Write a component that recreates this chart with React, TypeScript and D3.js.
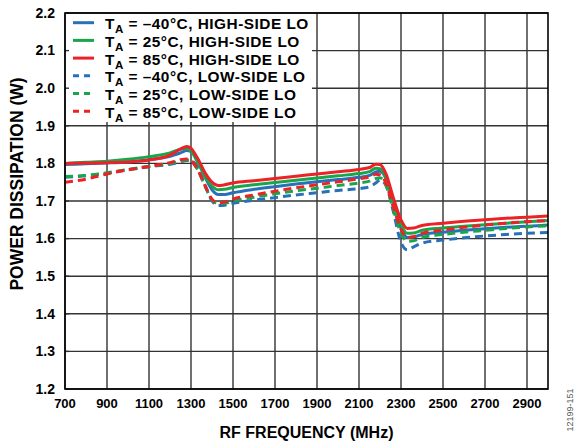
import React from "react";
import * as d3 from "d3";

const freqs = [700, 800, 900, 1000, 1100, 1200, 1250, 1280, 1300, 1330, 1370, 1400, 1430, 1460, 1500, 1600, 1700, 1800, 1900, 2000, 2100, 2150, 2180, 2200, 2230, 2260, 2300, 2330, 2360, 2400, 2500, 2600, 2700, 2800, 2900, 3000];

const hsM40 = [1.797, 1.799, 1.801, 1.804, 1.810, 1.819, 1.828, 1.834, 1.831, 1.810, 1.760, 1.730, 1.717, 1.717, 1.722, 1.731, 1.738, 1.745, 1.751, 1.757, 1.763, 1.768, 1.777, 1.779, 1.757, 1.700, 1.628, 1.603, 1.604, 1.611, 1.617, 1.622, 1.626, 1.630, 1.633, 1.636];
const hs25 = [1.800, 1.803, 1.806, 1.811, 1.818, 1.828, 1.838, 1.840, 1.833, 1.805, 1.762, 1.740, 1.730, 1.731, 1.736, 1.743, 1.749, 1.755, 1.761, 1.767, 1.773, 1.778, 1.787, 1.786, 1.760, 1.705, 1.638, 1.614, 1.615, 1.622, 1.628, 1.633, 1.637, 1.641, 1.645, 1.648];
const hs85 = [1.800, 1.801, 1.802, 1.804, 1.809, 1.822, 1.838, 1.845, 1.840, 1.815, 1.772, 1.750, 1.741, 1.743, 1.748, 1.754, 1.760, 1.766, 1.772, 1.778, 1.784, 1.789, 1.798, 1.797, 1.770, 1.715, 1.650, 1.627, 1.628, 1.635, 1.641, 1.646, 1.650, 1.654, 1.657, 1.660];
const lsM40 = [1.763, 1.767, 1.774, 1.783, 1.791, 1.798, 1.804, 1.808, 1.808, 1.790, 1.738, 1.700, 1.688, 1.689, 1.694, 1.702, 1.709, 1.716, 1.722, 1.728, 1.733, 1.738, 1.748, 1.756, 1.740, 1.680, 1.590, 1.570, 1.578, 1.588, 1.596, 1.602, 1.607, 1.611, 1.614, 1.616];
const ls25 = [1.765, 1.768, 1.775, 1.784, 1.792, 1.800, 1.806, 1.809, 1.806, 1.785, 1.735, 1.703, 1.693, 1.694, 1.700, 1.710, 1.719, 1.727, 1.734, 1.741, 1.748, 1.753, 1.760, 1.762, 1.740, 1.683, 1.615, 1.593, 1.594, 1.603, 1.611, 1.617, 1.622, 1.627, 1.631, 1.634];
const ls85 = [1.750, 1.758, 1.772, 1.783, 1.792, 1.802, 1.810, 1.812, 1.808, 1.785, 1.737, 1.705, 1.695, 1.697, 1.705, 1.716, 1.726, 1.735, 1.743, 1.751, 1.759, 1.764, 1.771, 1.770, 1.745, 1.690, 1.625, 1.603, 1.605, 1.614, 1.623, 1.630, 1.636, 1.641, 1.645, 1.648];

const xTicks = [700, 900, 1100, 1300, 1500, 1700, 1900, 2100, 2300, 2500, 2700, 2900];
const yTicks = [1.2, 1.3, 1.4, 1.5, 1.6, 1.7, 1.8, 1.9, 2.0, 2.1, 2.2];

const temps = ["–40°C", "25°C", "85°C", "–40°C", "25°C", "85°C"];
const sides = ["HIGH-SIDE LO", "HIGH-SIDE LO", "HIGH-SIDE LO", "LOW-SIDE LO", "LOW-SIDE LO", "LOW-SIDE LO"];
const seriesData = [hsM40, hs25, hs85, lsM40, ls25, ls85];
const colors = ["#2a70b8", "#19a64a", "#ec2227", "#2a70b8", "#19a64a", "#ec2227"];
const dashed = [false, false, false, true, true, true];

const L = 65, R = 548, T = 13, B = 389;

export default function App() {
  const x = d3.scaleLinear().domain([700, 3000]).range([L, R]);
  const y = d3.scaleLinear().domain([1.2, 2.2]).range([B, T]);
  const line = d3
    .line<number>()
    .x((_, i) => x(freqs[i]))
    .y((v) => y(v))
    .curve(d3.curveMonotoneX);
  const font = "'Liberation Sans', Arial, sans-serif";
  const order = [0, 1, 2, 3, 4, 5];
  return (
    <svg width={578} height={443} style={{ position: "absolute", left: 0, top: 0, background: "#fff" }} fontFamily={font}>
      <rect x={0} y={0} width={578} height={443} fill="#fff" />
      {xTicks.map((t) => (
        <line key={"gx" + t} x1={x(t)} x2={x(t)} y1={T} y2={B} stroke="#333" strokeWidth={1.4} />
      ))}
      {yTicks.map((t) => (
        <line key={"gy" + t} x1={L} x2={R} y1={y(t)} y2={y(t)} stroke="#333" strokeWidth={1.4} />
      ))}
      <rect x={L + 1} y={T + 1} width={246} height={108} fill="#fff" />
      {yTicks.map((t) => (
        <line key={"ty" + t} x1={L} x2={L + 4} y1={y(t)} y2={y(t)} stroke="#333" strokeWidth={1.4} />
      ))}
      <g clipPath="url(#clip)">
        {order.map((i) => (
          <path
            key={"s" + i}
            d={line(seriesData[i]) || ""}
            fill="none"
            stroke={colors[i]}
            strokeWidth={3}
            strokeDasharray={dashed[i] ? "8,5" : undefined}
          />
        ))}
      </g>
      <defs>
        <clipPath id="clip">
          <rect x={L} y={T} width={R - L} height={B - T} />
        </clipPath>
      </defs>
      <rect x={L} y={T} width={R - L} height={B - T} fill="none" stroke="#000" strokeWidth={1.6} />
      {temps.map((tmp, i) => {
        const ly = 22.7 + i * 17.7;
        return (
          <g key={"lg" + i}>
            <line x1={73} x2={94} y1={ly} y2={ly} stroke={colors[i]} strokeWidth={3} strokeDasharray={dashed[i] ? "6,5" : undefined} />
            <text
              transform={`translate(105,${ly + 6.6}) scale(1.1,1)`}
              fontSize={14}
              fontWeight="bold"
              fill="#000"
              letterSpacing={0.45}
            >
              T<tspan fontSize={10.5} dy={4}>A</tspan>
              <tspan dy={-4}>{" = " + tmp + ", " + sides[i]}</tspan>
            </text>
          </g>
        );
      })}
      {yTicks.map((t) => (
        <text key={"yl" + t} x={55} y={y(t) + 4.8} textAnchor="end" fontSize={14} fontWeight="bold" fill="#000">
          {t.toFixed(1)}
        </text>
      ))}
      {xTicks.map((t) => (
        <text key={"xl" + t} x={x(t)} y={408} textAnchor="middle" fontSize={13} fontWeight="bold" fill="#000">
          {t}
        </text>
      ))}
      <text x={(L + R) / 2} y={438} textAnchor="middle" fontSize={16} fontWeight="bold" fill="#000">
        RF FREQUENCY (MHz)
      </text>
      <text
        transform={`translate(23,184) rotate(-90)`}
        textAnchor="middle"
        fontSize={17.5}
        fontWeight="bold"
        fill="#000"
      >
        POWER DISSIPATION (W)
      </text>
      <text transform="translate(573,410) rotate(-90)" textAnchor="middle" fontSize={9} fill="#555">
        12199-151
      </text>
    </svg>
  );
}
